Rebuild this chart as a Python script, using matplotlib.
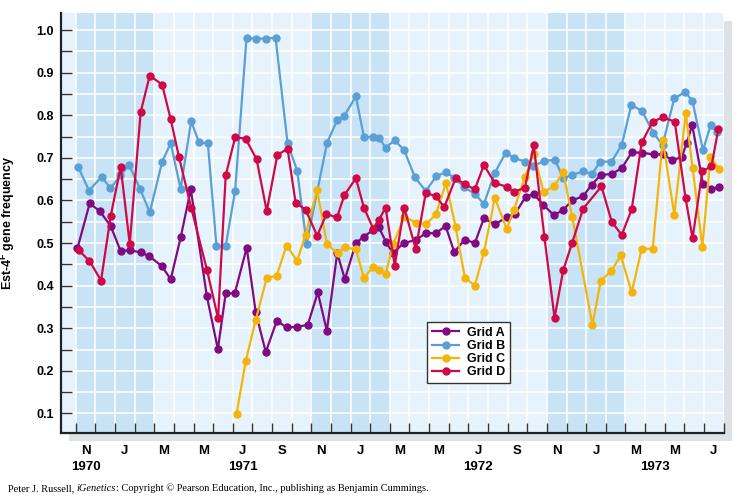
import matplotlib
matplotlib.use("Agg")
import matplotlib.pyplot as plt
from matplotlib.patches import Rectangle
import numpy as np

plt.rcParams["font.family"] = ["Liberation Sans", "DejaVu Sans"]
plt.rcParams["mathtext.fontset"] = "custom"
plt.rcParams["mathtext.bf"] = "Liberation Sans:bold"
plt.rcParams["mathtext.rm"] = "Liberation Sans:bold"

# x = months after 1 Nov 1970 (sampling dates), y = Est-4F frequency
grid_a_x = [0.09, 0.71, 1.22, 1.78, 2.29, 2.75, 3.31, 3.75, 4.38, 4.84, 5.35, 5.86, 6.68, 7.24, 7.64,
            8.10, 8.71, 9.17, 9.68, 10.24, 10.75, 11.26, 11.82, 12.33, 12.79, 13.32, 13.71, 14.27,
            14.68, 15.13, 15.44, 15.80, 16.15, 16.71, 17.32, 17.83, 18.34, 18.84, 19.28, 19.82, 20.33,
            20.79, 21.35, 21.95, 22.37, 22.91, 23.32, 23.81, 24.36, 24.83, 25.29, 25.85, 26.28, 26.75,
            27.30, 27.82, 28.32, 28.86, 29.44, 29.90, 30.37, 30.86, 31.12, 31.40, 31.95, 32.37, 32.76]
grid_a_y = [0.488, 0.593, 0.575, 0.540, 0.481, 0.483, 0.478, 0.469, 0.446, 0.415, 0.514, 0.626, 0.375,
            0.251, 0.382, 0.382, 0.489, 0.337, 0.244, 0.317, 0.302, 0.303, 0.308, 0.384, 0.294, 0.476,
            0.415, 0.500, 0.515, 0.530, 0.537, 0.503, 0.476, 0.500, 0.507, 0.523, 0.523, 0.540, 0.479,
            0.508, 0.500, 0.558, 0.544, 0.560, 0.568, 0.608, 0.615, 0.590, 0.565, 0.578, 0.600, 0.610,
            0.637, 0.660, 0.662, 0.676, 0.713, 0.712, 0.708, 0.708, 0.695, 0.701, 0.734, 0.777, 0.639,
            0.626, 0.632]

grid_b_x = [0.12, 0.68, 1.32, 1.77, 2.28, 2.72, 3.28, 3.77, 4.40, 4.84, 5.34, 5.88, 6.28, 6.73, 7.17,
            7.64, 8.12, 8.70, 9.17, 9.67, 10.18, 10.79, 11.28, 11.76, 12.80, 13.31, 13.68, 14.27, 14.68,
            15.15, 15.45, 15.78, 16.25, 16.73, 17.27, 17.83, 18.37, 18.84, 19.28, 19.79, 20.33, 20.79,
            21.35, 21.90, 22.32, 22.88, 23.31, 23.85, 24.41, 24.83, 25.29, 25.85, 26.31, 26.70, 27.29,
            27.81, 28.30, 28.84, 29.42, 29.89, 30.49, 31.04, 31.41, 31.95, 32.34, 32.66]
grid_b_y = [0.679, 0.623, 0.656, 0.628, 0.659, 0.683, 0.627, 0.572, 0.690, 0.735, 0.627, 0.786, 0.736,
            0.734, 0.493, 0.493, 0.623, 0.982, 0.980, 0.980, 0.982, 0.734, 0.670, 0.498, 0.735, 0.788,
            0.799, 0.844, 0.749, 0.749, 0.747, 0.724, 0.741, 0.718, 0.655, 0.622, 0.657, 0.666, 0.653,
            0.631, 0.615, 0.592, 0.665, 0.712, 0.700, 0.691, 0.681, 0.692, 0.696, 0.652, 0.660, 0.668,
            0.662, 0.691, 0.691, 0.730, 0.824, 0.810, 0.759, 0.730, 0.840, 0.854, 0.834, 0.718, 0.776,
            0.760]

grid_c_x = [8.19, 8.66, 9.17, 9.73, 10.23, 10.74, 11.28, 11.71, 12.29, 12.80, 13.34, 13.71, 14.27,
            14.68, 15.15, 15.45, 15.78, 16.17, 16.73, 17.32, 17.83, 18.34, 18.86, 19.35, 19.82, 20.33,
            20.79, 21.35, 21.95, 22.32, 22.88, 23.33, 23.83, 24.38, 24.83, 25.29, 26.32, 26.74, 27.29,
            27.76, 28.32, 28.83, 29.39, 29.90, 30.49, 31.07, 31.42, 31.92, 32.33, 32.78]
grid_c_y = [0.098, 0.223, 0.320, 0.418, 0.423, 0.494, 0.458, 0.520, 0.625, 0.497, 0.476, 0.490, 0.485,
            0.418, 0.444, 0.436, 0.427, 0.497, 0.562, 0.548, 0.544, 0.567, 0.641, 0.538, 0.419, 0.400,
            0.478, 0.606, 0.533, 0.578, 0.655, 0.710, 0.620, 0.634, 0.667, 0.561, 0.308, 0.411, 0.435,
            0.471, 0.384, 0.487, 0.486, 0.742, 0.566, 0.805, 0.677, 0.491, 0.702, 0.673]

grid_d_x = [0.15, 0.70, 1.29, 1.78, 2.29, 2.75, 3.31, 3.77, 4.40, 4.84, 5.26, 5.88, 6.69, 7.25, 7.64,
            8.12, 8.65, 9.21, 9.73, 10.27, 10.79, 11.20, 11.71, 12.30, 12.77, 13.31, 13.68, 14.27,
            14.68, 15.15, 15.45, 15.78, 16.25, 16.73, 17.32, 17.83, 18.34, 18.77, 19.35, 19.82, 20.33,
            20.79, 21.35, 21.95, 22.32, 22.88, 23.33, 23.87, 24.39, 24.83, 25.29, 25.85, 26.78, 27.30,
            27.81, 28.32, 28.83, 29.39, 29.90, 30.51, 31.06, 31.42, 31.92, 32.38, 32.73]
grid_d_y = [0.483, 0.458, 0.412, 0.563, 0.679, 0.498, 0.808, 0.893, 0.872, 0.790, 0.702, 0.583, 0.436,
            0.323, 0.659, 0.748, 0.745, 0.697, 0.575, 0.707, 0.721, 0.595, 0.578, 0.517, 0.568, 0.560,
            0.612, 0.652, 0.583, 0.534, 0.555, 0.583, 0.447, 0.583, 0.486, 0.618, 0.610, 0.584, 0.652,
            0.638, 0.626, 0.683, 0.641, 0.632, 0.620, 0.630, 0.729, 0.515, 0.324, 0.436, 0.501, 0.581,
            0.633, 0.550, 0.519, 0.579, 0.736, 0.785, 0.795, 0.785, 0.606, 0.511, 0.669, 0.680, 0.767]

month_labels = ["N", "J", "M", "M", "J", "S", "N", "J", "M", "M", "J", "S", "N", "J", "M", "M", "J"]
year_labels = ["1970", "1971", "1972", "1973"]
year_pos = [0.5, 8.5, 20.5, 29.5]
winters = [(0, 4), (12, 16), (24, 28)]

series = [
    ("Grid A", grid_a_x, grid_a_y, "#800a80"),
    ("Grid B", grid_b_x, grid_b_y, "#5a9fd6"),
    ("Grid C", grid_c_x, grid_c_y, "#f4b50a"),
    ("Grid D", grid_d_x, grid_d_y, "#cf0846"),
]

W, H = 741, 504
fig = plt.figure(figsize=(W / 100, H / 100), dpi=100)
left, bottom, width, height = 61 / W, 71 / H, 662.6 / W, 420 / H
ax = fig.add_axes([left, bottom, width, height])

# drop shadow behind the plot area
fig.patches.append(Rectangle((left + 8 / W, bottom - 8 / H), width, height,
                             transform=fig.transFigure, facecolor="#dde2e7",
                             edgecolor="none", zorder=-1))

ax.set_facecolor("#e7f3fc")
for a, b in winters:
    ax.axvspan(a, b, color="#c9e3f6", zorder=0, lw=0)

ax.set_xlim(-0.75, 33)
ax.set_ylim(0.054, 1.040)

ax.set_xticks(np.arange(0, 34))
ax.set_xticklabels([])
ax.set_xticks(np.arange(0.5, 33, 2), minor=True)
ax.set_xticklabels(month_labels, minor=True, fontweight="bold", fontsize=9.5)
ax.set_yticks(np.arange(0.1, 1.01, 0.1))
ax.set_yticklabels([f"{v:.1f}" for v in np.arange(0.1, 1.01, 0.1)], fontweight="bold", fontsize=9)
ax.set_yticks(np.arange(0.15, 1.0, 0.1), minor=True)

ax.tick_params(axis="x", which="major", direction="in", length=7, width=1, color="#333333")
ax.tick_params(axis="x", which="minor", length=0, pad=9)
ax.tick_params(axis="y", which="both", direction="in", length=8, width=1, color="#333333", pad=5)

ax.grid(axis="x", which="major", color="white", lw=1.1, zorder=0.5)
ax.grid(axis="y", which="both", color="white", lw=1.1, zorder=0.5)
ax.set_axisbelow(True)

for s in ["top", "right"]:
    ax.spines[s].set_visible(False)
for s in ["left", "bottom"]:
    ax.spines[s].set_linewidth(1.6)
    ax.spines[s].set_color("#222222")

for name, xs, ys, col in series:
    ax.plot(xs, ys, color=col, lw=1.6, marker="o", ms=5, label=name, zorder=3)

for yr, xp in zip(year_labels, year_pos):
    ax.text(xp, -0.08, yr, transform=ax.get_xaxis_transform(), ha="center", va="center",
            fontweight="bold", fontsize=9.5)

ax.set_ylabel(r"Est-4$^{\mathbf{F}}$ gene frequency", fontweight="bold", fontsize=9)
ax.yaxis.set_label_coords(-0.066, 0.5)

leg = ax.legend(loc="upper left", bbox_to_anchor=(0.552, 0.265), frameon=True, fancybox=False,
                prop={"weight": "bold", "size": 9}, handlelength=2.2, labelspacing=0.1,
                borderpad=0.4, handletextpad=0.6, borderaxespad=0)
leg.get_frame().set_edgecolor("#333333")
leg.get_frame().set_linewidth(1.0)
leg.get_frame().set_facecolor("white")
leg.get_frame().set_alpha(1)

# credit line, with the book title in italics
serif = ["Liberation Serif", "DejaVu Serif"]
fig.canvas.draw()
r = fig.canvas.get_renderer()
xpos = 8 / W
parts = [("Peter J. Russell, ", "normal"), ("iGenetics", "italic"),
         (": Copyright \u00a9 Pearson Education, Inc., publishing as Benjamin Cummings.", "normal")]
for txt, style in parts:
    t = fig.text(xpos, 1 - 491 / H, txt, family=serif, style=style, fontsize=7.5, va="baseline")
    xpos += t.get_window_extent(r).width / W

fig.savefig("out.png", dpi=100)
